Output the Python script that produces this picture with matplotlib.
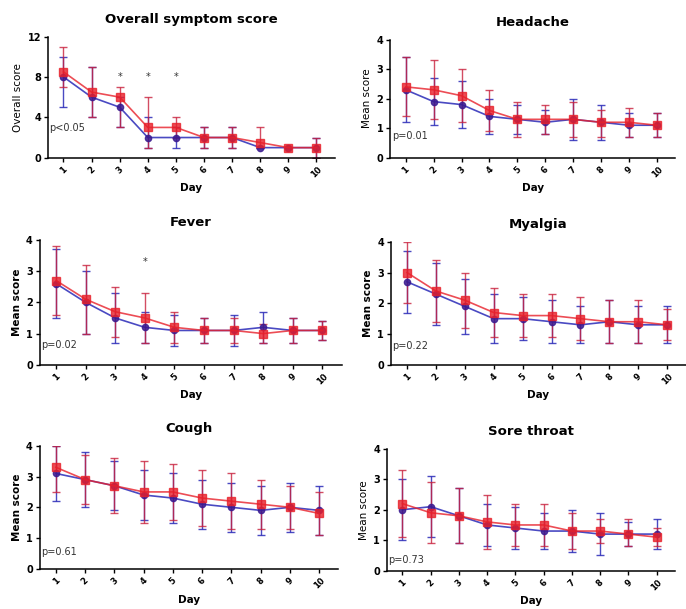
import numpy as np
import matplotlib
matplotlib.use("Agg")
import matplotlib.pyplot as plt

days = [1, 2, 3, 4, 5, 6, 7, 8, 9, 10]

# Overall symptom score
overall_blue = [8, 6, 5, 2, 2, 2, 2, 1, 1, 1]
overall_blue_lo = [5, 4, 3, 1, 1, 1, 1, 1, 1, 0]
overall_blue_hi = [10, 9, 6, 4, 3, 3, 3, 1, 1, 2]
overall_red = [8.5, 6.5, 6, 3, 3, 2, 2, 1.5, 1, 1]
overall_red_lo = [7, 4, 3, 1, 2, 1, 1, 1, 1, 0]
overall_red_hi = [11, 9, 7, 6, 4, 3, 3, 3, 1, 2]

# Headache
headache_blue = [2.3, 1.9, 1.8, 1.4, 1.3, 1.2, 1.3, 1.2, 1.1, 1.1]
headache_blue_lo = [1.2, 1.1, 1.0, 0.8, 0.8, 0.8, 0.6, 0.6, 0.7, 0.7]
headache_blue_hi = [3.4, 2.7, 2.6, 2.0, 1.8, 1.6, 2.0, 1.8, 1.5, 1.5]
headache_red = [2.4, 2.3, 2.1, 1.6, 1.3, 1.3, 1.3, 1.2, 1.2, 1.1]
headache_red_lo = [1.4, 1.3, 1.2, 0.9, 0.7, 0.8, 0.7, 0.7, 0.7, 0.7]
headache_red_hi = [3.4, 3.3, 3.0, 2.3, 1.9, 1.8, 1.9, 1.6, 1.7, 1.5]

# Fever
fever_blue = [2.6, 2.0, 1.5, 1.2, 1.1, 1.1, 1.1, 1.2, 1.1, 1.1]
fever_blue_lo = [1.5, 1.0, 0.7, 0.7, 0.6, 0.7, 0.6, 0.7, 0.7, 0.8]
fever_blue_hi = [3.7, 3.0, 2.3, 1.7, 1.6, 1.5, 1.6, 1.7, 1.5, 1.4]
fever_red = [2.7, 2.1, 1.7, 1.5, 1.2, 1.1, 1.1, 1.0, 1.1, 1.1]
fever_red_lo = [1.6, 1.0, 0.9, 0.7, 0.7, 0.7, 0.7, 0.7, 0.7, 0.8]
fever_red_hi = [3.8, 3.2, 2.5, 2.3, 1.7, 1.5, 1.5, 1.3, 1.5, 1.4]

# Myalgia
myalgia_blue = [2.7, 2.3, 1.9, 1.5, 1.5, 1.4, 1.3, 1.4, 1.3, 1.3]
myalgia_blue_lo = [1.7, 1.3, 1.0, 0.7, 0.8, 0.7, 0.7, 0.7, 0.7, 0.7]
myalgia_blue_hi = [3.7, 3.3, 2.8, 2.3, 2.2, 2.1, 1.9, 2.1, 1.9, 1.9]
myalgia_red = [3.0, 2.4, 2.1, 1.7, 1.6, 1.6, 1.5, 1.4, 1.4, 1.3]
myalgia_red_lo = [2.0, 1.4, 1.2, 0.9, 0.9, 0.9, 0.8, 0.7, 0.7, 0.8]
myalgia_red_hi = [4.0, 3.4, 3.0, 2.5, 2.3, 2.3, 2.2, 2.1, 2.1, 1.8]

# Cough
cough_blue = [3.1, 2.9, 2.7, 2.4, 2.3, 2.1, 2.0, 1.9, 2.0, 1.9]
cough_blue_lo = [2.2, 2.0, 1.9, 1.6, 1.5, 1.3, 1.2, 1.1, 1.2, 1.1]
cough_blue_hi = [4.0, 3.8, 3.5, 3.2, 3.1, 2.9, 2.8, 2.7, 2.8, 2.7]
cough_red = [3.3, 2.9, 2.7, 2.5, 2.5, 2.3, 2.2, 2.1, 2.0, 1.8]
cough_red_lo = [2.5, 2.1, 1.8, 1.5, 1.6, 1.4, 1.3, 1.3, 1.3, 1.1]
cough_red_hi = [4.0, 3.7, 3.6, 3.5, 3.4, 3.2, 3.1, 2.9, 2.7, 2.5]

# Sore throat
sore_blue = [2.0, 2.1, 1.8, 1.5, 1.4, 1.3, 1.3, 1.2, 1.2, 1.2]
sore_blue_lo = [1.0, 1.1, 0.9, 0.8, 0.7, 0.7, 0.6, 0.5, 0.8, 0.7]
sore_blue_hi = [3.0, 3.1, 2.7, 2.2, 2.1, 1.9, 2.0, 1.9, 1.6, 1.7]
sore_red = [2.2, 1.9, 1.8, 1.6, 1.5, 1.5, 1.3, 1.3, 1.2, 1.1]
sore_red_lo = [1.1, 0.9, 0.9, 0.7, 0.8, 0.8, 0.7, 0.9, 0.8, 0.8]
sore_red_hi = [3.3, 2.9, 2.7, 2.5, 2.2, 2.2, 1.9, 1.7, 1.7, 1.4]

BLUE = "#2a2ab8"
RED = "#e8202a"


def DrawPanel(fig, rect, title, ylabel, ylabel_bold, ymax, yticks, ptext, pos_y,
              blue, blue_lo, blue_hi, red, red_lo, red_hi, stars=None):
    ax = fig.add_axes(rect)
    b = np.array(blue)
    r = np.array(red)
    berr = [b - np.array(blue_lo), np.array(blue_hi) - b]
    rerr = [r - np.array(red_lo), np.array(red_hi) - r]
    ax.errorbar(days, b, yerr=berr, color=BLUE, ecolor=BLUE, marker="o",
                markersize=4.5, lw=1.2, elinewidth=1.0, capsize=3, capthick=1.0,
                markerfacecolor="#3a1a90", markeredgecolor="#3a1a90", alpha=0.85)
    ax.errorbar(days, r, yerr=rerr, color=RED, ecolor="#c8203c", marker="s",
                markersize=5.5, lw=1.2, elinewidth=1.0, capsize=3, capthick=1.0,
                alpha=0.8)
    ax.set_xlim(0.45, 10.65)
    ax.set_ylim(0, ymax)
    ax.set_yticks(yticks)
    ax.set_xticks(days)
    ax.set_xticklabels([str(d) for d in days], rotation=45, ha="center",
                       va="top", fontsize=6, fontweight="bold")
    for lab in ax.get_yticklabels():
        lab.set_fontsize(7)
        lab.set_fontweight("bold")
    ax.tick_params(direction="out", length=3, width=1, pad=2)
    for s in ["top", "right"]:
        ax.spines[s].set_visible(False)
    for s in ["left", "bottom"]:
        ax.spines[s].set_linewidth(1.1)
    ax.set_title(title, fontsize=9.5, fontweight="bold", pad=10)
    ax.set_xlabel("Day", fontsize=7.5, fontweight="bold", labelpad=3)
    ax.set_ylabel(ylabel, fontsize=7.5, fontweight="bold" if ylabel_bold else "normal",
                  labelpad=3)
    ax.text(0.5, pos_y, ptext, fontsize=7, color="#333333", va="center")
    if stars:
        for d, y in stars:
            ax.text(d, y, "*", ha="center", va="center", fontsize=7, color="#333333")
    return ax


fig = plt.figure(figsize=(6.86, 6.09), dpi=100)

DrawPanel(fig, [0.070, 0.741, 0.418, 0.199], "Overall symptom score", "Overall score", False,
          12, [0, 4, 8, 12], "p<0.05", 2.9,
          overall_blue, overall_blue_lo, overall_blue_hi,
          overall_red, overall_red_lo, overall_red_hi,
          stars=[(3, 8), (4, 8), (5, 8)])
DrawPanel(fig, [0.569, 0.741, 0.415, 0.194], "Headache", "Mean score", False,
          4, [0, 1, 2, 3, 4], "p=0.01", 0.75,
          headache_blue, headache_blue_lo, headache_blue_hi,
          headache_red, headache_red_lo, headache_red_hi)
DrawPanel(fig, [0.058, 0.401, 0.44, 0.205], "Fever", "Mean score", True,
          4, [0, 1, 2, 3, 4], "p=0.02", 0.65,
          fever_blue, fever_blue_lo, fever_blue_hi,
          fever_red, fever_red_lo, fever_red_hi,
          stars=[(4, 3.3)])
DrawPanel(fig, [0.570, 0.401, 0.43, 0.202], "Myalgia", "Mean score", True,
          4, [0, 1, 2, 3, 4], "p=0.22", 0.6,
          myalgia_blue, myalgia_blue_lo, myalgia_blue_hi,
          myalgia_red, myalgia_red_lo, myalgia_red_hi)
DrawPanel(fig, [0.058, 0.066, 0.435, 0.202], "Cough", "Mean score", True,
          4, [0, 1, 2, 3, 4], "p=0.61", 0.55,
          cough_blue, cough_blue_lo, cough_blue_hi,
          cough_red, cough_red_lo, cough_red_hi)
DrawPanel(fig, [0.564, 0.063, 0.42, 0.2], "Sore throat", "Mean score", False,
          4, [0, 1, 2, 3, 4], "p=0.73", 0.35,
          sore_blue, sore_blue_lo, sore_blue_hi,
          sore_red, sore_red_lo, sore_red_hi)

fig.savefig("out.png", dpi=100)
